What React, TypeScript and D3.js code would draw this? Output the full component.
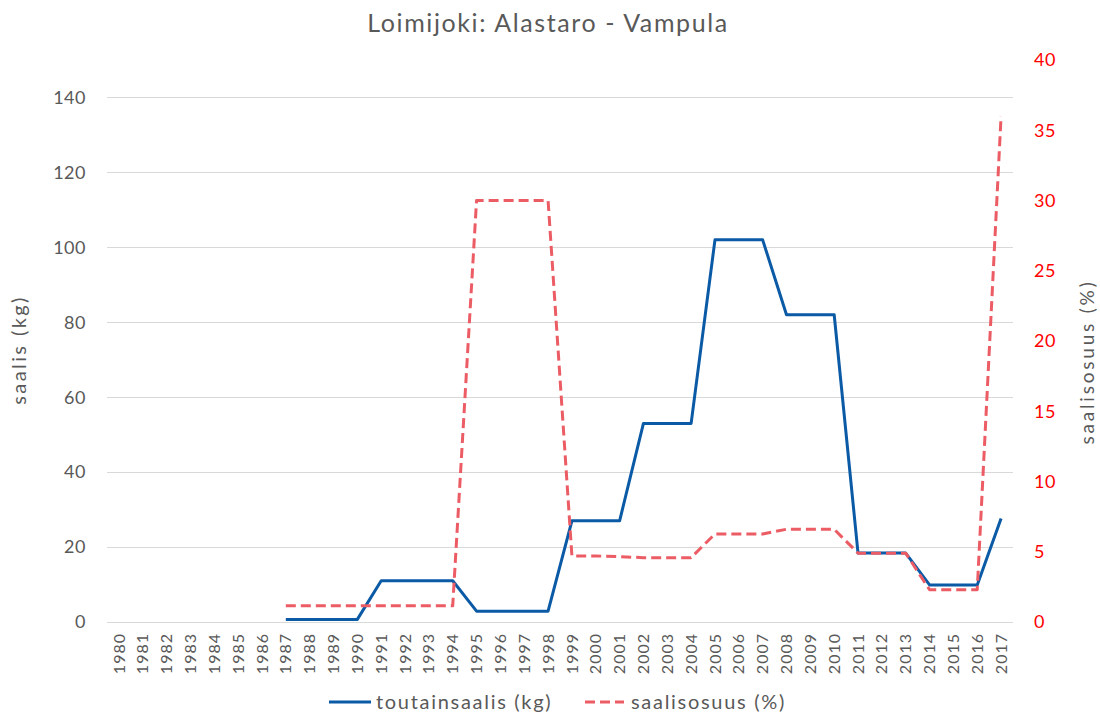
import React, { useRef, useEffect } from "react";
import * as d3 from "d3";

// years on the x axis
const years = [
  "1980", "1981", "1982", "1983", "1984", "1985", "1986", "1987", "1988", "1989",
  "1990", "1991", "1992", "1993", "1994", "1995", "1996", "1997", "1998", "1999",
  "2000", "2001", "2002", "2003", "2004", "2005", "2006", "2007", "2008", "2009",
  "2010", "2011", "2012", "2013", "2014", "2015", "2016", "2017",
];

// toutainsaalis (kg), left axis
const catchKg: (number | null)[] = [
  null, null, null, null, null, null, null, 0.7, 0.7, 0.7,
  0.7, 11, 11, 11, 11, 2.9, 2.9, 2.9, 2.9, 27,
  27, 27, 53, 53, 53, 102, 102, 102, 82, 82,
  82, 18.4, 18.4, 18.4, 9.9, 9.9, 9.9, 27.6,
];

// saalisosuus (%), right axis
const sharePct: (number | null)[] = [
  null, null, null, null, null, null, null, 1.15, 1.15, 1.15,
  1.15, 1.15, 1.15, 1.15, 1.15, 30, 30, 30, 30, 4.7,
  4.7, 4.65, 4.58, 4.58, 4.58, 6.27, 6.27, 6.27, 6.6, 6.6,
  6.6, 4.9, 4.9, 4.9, 2.3, 2.3, 2.3, 36,
];

const leftTicks = [0, 20, 40, 60, 80, 100, 120, 140];
const rightTicks = [0, 5, 10, 15, 20, 25, 30, 35, 40];

const W = 1100;
const H = 716;
const FONT = "Lato, 'Open Sans', sans-serif";
const GREY = "#595959";
const BLUE = "#0b5aa6";
const RED = "#ec5c64";

const App = () => {
  const ref = useRef<SVGSVGElement>(null);

  useEffect(() => {
    const svg = d3.select(ref.current);
    svg.selectAll("*").remove();

    const left = 107, right = 1013, top = 60, bottom = 622;

    const x = d3.scaleBand().domain(years).range([left, right]).padding(0);
    const yL = d3.scaleLinear().domain([0, 150]).range([bottom, top]);
    const yR = d3.scaleLinear().domain([0, 40]).range([bottom, top]);
    const cx = (i: number) => (x(years[i]) as number) + x.bandwidth() / 2;

    // gridlines
    svg.append("g")
      .selectAll("line")
      .data(leftTicks)
      .join("line")
      .attr("x1", left).attr("x2", right)
      .attr("y1", d => Math.round(yL(d)) + 0.5)
      .attr("y2", d => Math.round(yL(d)) + 0.5)
      .attr("stroke", "#d9d9d9")
      .attr("stroke-width", 1);

    // left tick labels
    svg.append("g")
      .selectAll("text")
      .data(leftTicks)
      .join("text")
      .attr("x", 86)
      .attr("y", d => yL(d))
      .attr("dy", "0.35em")
      .attr("text-anchor", "end")
      .attr("font-size", 18)
      .attr("letter-spacing", 0.5)
      .attr("fill", GREY)
      .text(d => d);

    // right tick labels
    svg.append("g")
      .selectAll("text")
      .data(rightTicks)
      .join("text")
      .attr("x", 1034)
      .attr("y", d => yR(d))
      .attr("dy", "0.35em")
      .attr("text-anchor", "start")
      .attr("font-size", 18)
      .attr("letter-spacing", 0.5)
      .attr("fill", "#ff0000")
      .text(d => d);

    // x tick labels, rotated
    svg.append("g")
      .selectAll("text")
      .data(years)
      .join("text")
      .attr("transform", d => `translate(${(x(d) as number) + x.bandwidth() / 2},${bottom + 11}) rotate(-90)`)
      .attr("dy", "0.35em")
      .attr("text-anchor", "end")
      .attr("font-size", 16)
      .attr("letter-spacing", 1)
      .attr("fill", GREY)
      .text(d => d);

    // lines
    const lineL = d3.line<number | null>()
      .defined(d => d !== null)
      .x((d, i) => cx(i))
      .y(d => yL(d as number));
    const lineR = d3.line<number | null>()
      .defined(d => d !== null)
      .x((d, i) => cx(i))
      .y(d => yR(d as number));

    svg.append("path")
      .attr("d", lineL(catchKg))
      .attr("fill", "none")
      .attr("stroke", BLUE)
      .attr("stroke-width", 3)
      .attr("stroke-linejoin", "round");

    svg.append("path")
      .attr("d", lineR(sharePct))
      .attr("fill", "none")
      .attr("stroke", RED)
      .attr("stroke-width", 3)
      .attr("stroke-dasharray", "10,5")
      .attr("stroke-linejoin", "round");

    // title
    svg.append("text")
      .attr("x", 548).attr("y", 32)
      .attr("text-anchor", "middle")
      .attr("font-size", 25)
      .attr("letter-spacing", 1.6)
      .attr("fill", GREY)
      .text("Loimijoki: Alastaro - Vampula");

    // axis titles
    svg.append("text")
      .attr("transform", `translate(26,350) rotate(-90)`)
      .attr("text-anchor", "middle")
      .attr("font-size", 20)
      .attr("letter-spacing", 2.4)
      .attr("fill", GREY)
      .text("saalis (kg)");
    svg.append("text")
      .attr("transform", `translate(1094,362) rotate(-90)`)
      .attr("text-anchor", "middle")
      .attr("font-size", 19)
      .attr("letter-spacing", 2.8)
      .attr("fill", GREY)
      .text("saalisosuus (%)");

    // legend
    const lg = svg.append("g").attr("transform", "translate(0,702)");
    lg.append("line").attr("x1", 329).attr("x2", 371).attr("y1", 0).attr("y2", 0)
      .attr("stroke", BLUE).attr("stroke-width", 3);
    lg.append("text").attr("x", 376).attr("y", 0).attr("dy", "0.35em")
      .attr("font-size", 20).attr("letter-spacing", 1.7).attr("fill", GREY).text("toutainsaalis (kg)");
    lg.append("line").attr("x1", 585).attr("x2", 624).attr("y1", 0).attr("y2", 0)
      .attr("stroke", RED).attr("stroke-width", 3).attr("stroke-dasharray", "10,5");
    lg.append("text").attr("x", 631).attr("y", 0).attr("dy", "0.35em")
      .attr("font-size", 20).attr("letter-spacing", 1.7).attr("fill", GREY).text("saalisosuus (%)");
  }, []);

  return (
    <svg ref={ref} width={W} height={H} style={{ position: "absolute", left: 0, top: 0, fontFamily: FONT, background: "#fff" }} />
  );
};

export default App;
